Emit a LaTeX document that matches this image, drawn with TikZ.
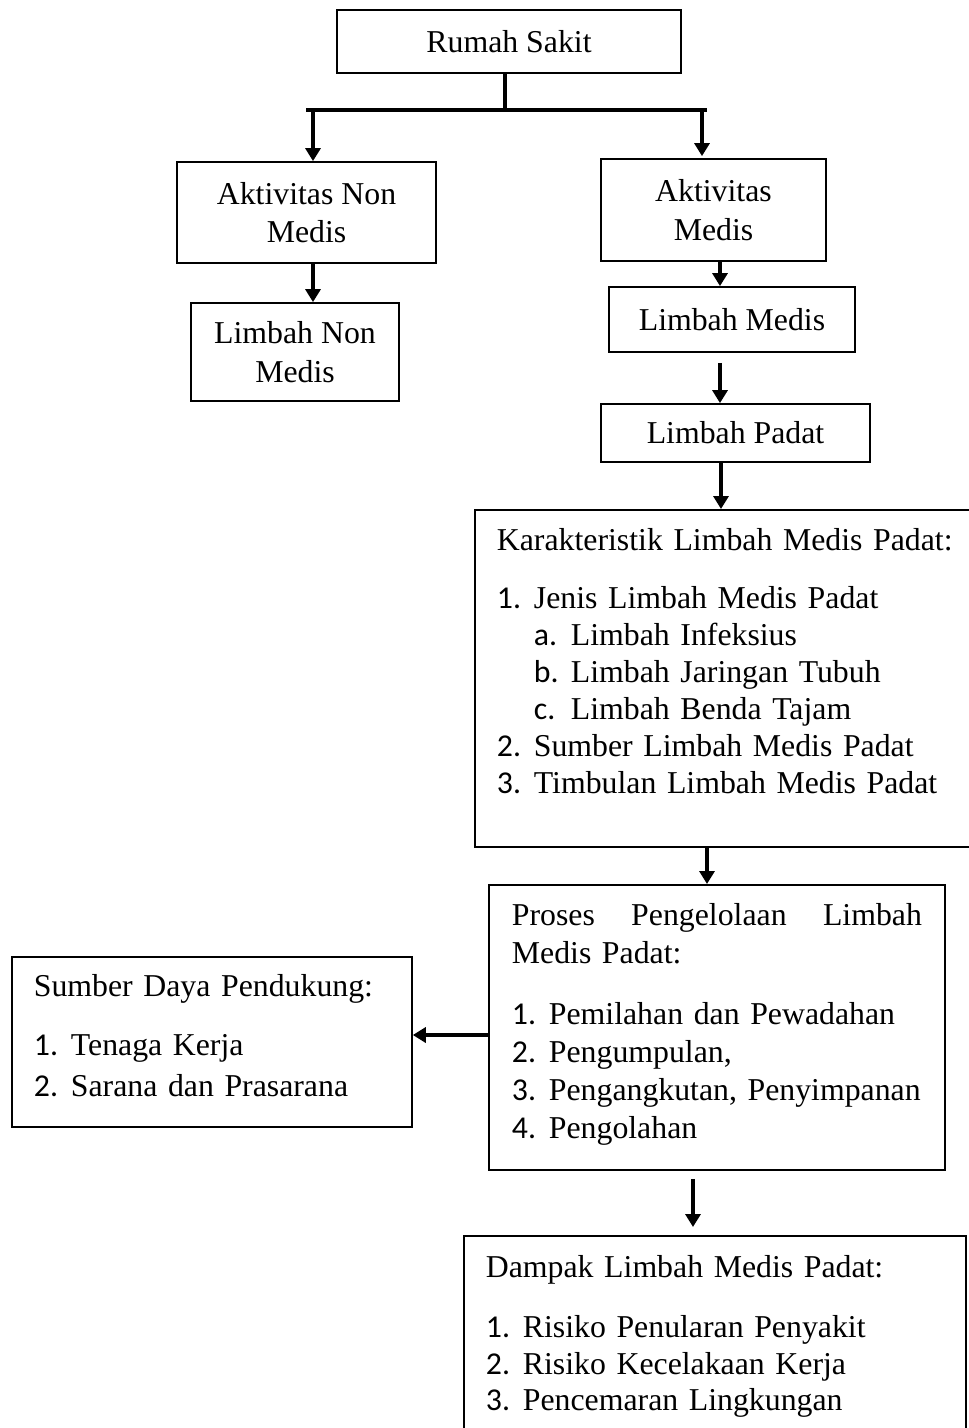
\documentclass[tikz,border=0pt]{standalone}
\usepackage{fontspec}
\setmainfont{Liberation Serif}
\newfontfamily\numfont{Carlito}
\usetikzlibrary{arrows.meta}
\newcommand\itm[2]{\mbox{\makebox[37pt][l]{\numfont #1}#2}}
\newcommand\sitm[2]{\mbox{\hspace*{37pt}\makebox[37pt][l]{\numfont #1}#2}}
\tikzset{
  sbox/.style={draw, line width=1.8pt, inner sep=0pt, align=center, font=\fontsize{31.8}{38.5}\selectfont},
  lbox/.style={draw, line width=1.8pt, inner ysep=0pt, inner xsep=22pt, align=left, anchor=north west},
  arr/.style={line width=3.5pt, -{Triangle[width=15pt,length=13pt]}},
  barline/.style={line width=3.5pt},
}
\begin{document}
\begin{tikzpicture}[x=1pt,y=-1pt]
\useasboundingbox (0,0) rectangle (969,1428);
% simple boxes
\node[sbox, minimum width=344pt, minimum height=63pt] (rs) at (509,41.5) {Rumah Sakit};
\node[sbox, minimum width=259pt, minimum height=101pt] (anm) at (306.5,212.5) {Aktivitas Non\\Medis};
\node[sbox, minimum width=208pt, minimum height=98pt] (lnm) at (295,352) {Limbah Non\\Medis};
\node[sbox, minimum width=225pt, minimum height=102pt] (am) at (713.5,210) {Aktivitas\\Medis};
\node[sbox, minimum width=246pt, minimum height=65pt] (lm) at (732,319.5) {Limbah Medis};
\node[sbox, minimum width=269pt, minimum height=58pt] (lp) at (735.5,433) {Limbah Padat};
% list boxes
\node[lbox, font=\fontsize{31.8}{37}\selectfont, text width=476pt] (kar) at (474,509)
 {\rule{0pt}{41pt}Karakteristik Limbah Medis Padat:\\[21pt]
  \itm{1.}{Jenis Limbah Medis Padat}\\
  \sitm{a.}{Limbah Infeksius}\\
  \sitm{b.}{Limbah Jaringan Tubuh}\\
  \sitm{c.}{Limbah Benda Tajam}\\
  \itm{2.}{Sumber Limbah Medis Padat}\\
  \itm{3.}{Timbulan Limbah Medis Padat}\rule[-53pt]{0pt}{53pt}};
\node[lbox, inner xsep=23pt, font=\fontsize{31.8}{37.7}\selectfont, text width=410pt] (pro) at (488,884)
 {\rule{0pt}{41pt}\hbox to 410pt{Proses\hfill Pengelolaan\hfill Limbah}\\[0.3pt]
  Medis Padat:\\[23.3pt]
  \itm{1.}{Pemilahan dan Pewadahan}\\
  \itm{2.}{Pengumpulan,}\\
  \itm{3.}{Pengangkutan, Penyimpanan}\\
  \itm{4.}{Pengolahan}\rule[-32pt]{0pt}{32pt}};
\node[lbox, font=\fontsize{31.8}{41}\selectfont, text width=356pt] (sdp) at (11,956)
 {\rule{0pt}{40pt}Sumber Daya Pendukung:\\[18pt]
  \itm{1.}{Tenaga Kerja}\\
  \itm{2.}{Sarana dan Prasarana}\rule[-30pt]{0pt}{30pt}};
\node[lbox, font=\fontsize{31.8}{36.5}\selectfont, text width=458pt] (dmp) at (463,1235)
 {\rule{0pt}{42pt}Dampak Limbah Medis Padat:\\[23.5pt]
  \itm{1.}{Risiko Penularan Penyakit}\\
  \itm{2.}{Risiko Kecelakaan Kerja}\\
  \itm{3.}{Pencemaran Lingkungan}\rule[-40pt]{0pt}{40pt}};
% coordinates
\coordinate (bl) at (306,110);
\coordinate (br) at (707,110);
\coordinate (bm) at (505,110);
\coordinate (xL) at (313,111);
\coordinate (xR) at (702,111);
\coordinate (x720) at (720,0);
\coordinate (x721) at (721,0);
\coordinate (x707) at (707,0);
\coordinate (x693) at (693,0);
\coordinate (y1035) at (0,1035);
% connectors
\draw[barline] (rs.south -| bm) -- (bm);
\draw[barline] (bl) -- (br);
\draw[arr] (xL) -- (anm.north -| xL);
\draw[arr, shorten >=2pt] (xR) -- (am.north -| xR);
\draw[arr] (anm.south -| xL) -- (lnm.north -| xL);
\draw[arr] (am.south -| x720) -- (lm.north -| x720);
\draw[arr, shorten <=10pt] (lm.south -| x720) -- (lp.north -| x720);
\draw[arr] (lp.south -| x721) -- (kar.north -| x721);
\draw[arr] (kar.south -| x707) -- (pro.north -| x707);
\draw[arr] (pro.west |- y1035) -- (sdp.east |- y1035);
\draw[arr, shorten <=8pt, shorten >=8pt] (pro.south -| x693) -- (dmp.north -| x693);
\end{tikzpicture}
\end{document}
